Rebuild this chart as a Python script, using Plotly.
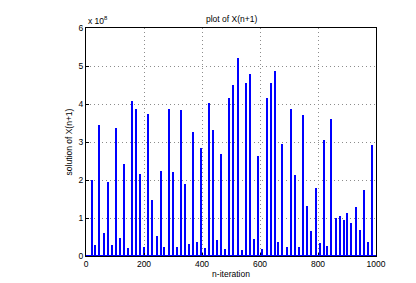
import plotly.graph_objects as go

# n-iteration positions of each bar
n_iter = [20, 33, 47, 61, 75, 89, 103, 117, 130, 145, 159, 172, 187, 201, 215, 229,
          244, 258, 271, 285, 299, 313, 328, 341, 355, 369, 383, 398, 412, 425, 439,
          453, 467, 481, 495, 509, 523, 537, 552, 566, 580, 595, 608, 623, 637, 651,
          664, 678, 693, 707, 722, 736, 749, 763, 777, 792, 806, 820, 833, 847, 861,
          875, 889, 902, 916, 931, 945, 959, 974, 987]
# solution of X(n+1), in units of 1e8
x_next = [2.00, 0.29, 3.46, 0.61, 1.94, 0.29, 3.37, 0.47, 2.43, 0.20, 4.08, 3.87,
          2.16, 0.24, 3.75, 1.47, 0.52, 2.25, 0.23, 3.88, 2.22, 0.24, 3.83, 1.90,
          0.31, 3.27, 0.38, 2.85, 0.20, 4.03, 3.32, 0.42, 2.69, 0.19, 4.16, 4.49,
          5.21, 0.17, 4.55, 4.80, 0.44, 2.64, 0.19, 4.16, 4.55, 4.87, 0.38, 2.95,
          0.24, 3.87, 2.14, 0.24, 3.72, 1.32, 0.65, 1.80, 0.35, 3.06, 0.26, 3.61,
          0.99, 1.05, 0.94, 1.12, 0.86, 1.28, 0.68, 1.75, 0.38, 2.93]
x_ticks = [0, 200, 400, 600, 800, 1000]
y_ticks = [0, 1, 2, 3, 4, 5, 6]
exponent = 8

FONT = "Liberation Sans, Arial, Helvetica, sans-serif"

fig = go.Figure()
fig.add_trace(go.Bar(x=n_iter, y=x_next, width=4.5,
                     marker=dict(color="#0000ff", line=dict(width=0))))

# the page body adds an 8px margin, so the figure is 8px smaller and shifted
fig.update_layout(
    width=408, height=275,
    margin=dict(l=78, r=40, t=20, b=27, autoexpand=False),
    paper_bgcolor="white", plot_bgcolor="white",
    showlegend=False,
    font=dict(family=FONT, size=8.5, color="black"),
    bargap=0,
)
grid_kw = dict(showgrid=True, gridcolor="#8c8c8c", griddash="1px,3px", gridwidth=1)
fig.update_xaxes(range=[0, 1000], tickvals=x_ticks, ticks="inside", ticklen=3,
                 tickcolor="black", showline=True, linecolor="black", linewidth=1,
                 mirror=True, zeroline=False, automargin=False,
                 title=dict(text="n-iteration", standoff=2, font=dict(size=8.5)),
                 **grid_kw)
fig.update_yaxes(range=[0, 6], tickvals=y_ticks, ticks="inside", ticklen=3,
                 tickcolor="black", showline=True, linecolor="black", linewidth=1,
                 mirror=True, zeroline=False, automargin=False,
                 title=dict(text="solution of X(n+1)", standoff=4, font=dict(size=8.5)),
                 **grid_kw)
# blue baseline
fig.add_shape(type="line", xref="paper", yref="y", x0=0, x1=1, y0=0, y1=0,
              line=dict(color="#0000ff", width=2))
fig.add_annotation(text="plot of X(n+1)", xref="paper", yref="paper", x=0.5,
                   y=1, yshift=2, xanchor="center", yanchor="bottom",
                   showarrow=False, font=dict(size=8.5))
fig.add_annotation(text="x 10<sup>%d</sup>" % exponent, xref="paper", yref="paper",
                   x=0, y=1, yshift=0, xanchor="left", yanchor="bottom",
                   showarrow=False, font=dict(size=8.5))

fig.write_html("out.html")
